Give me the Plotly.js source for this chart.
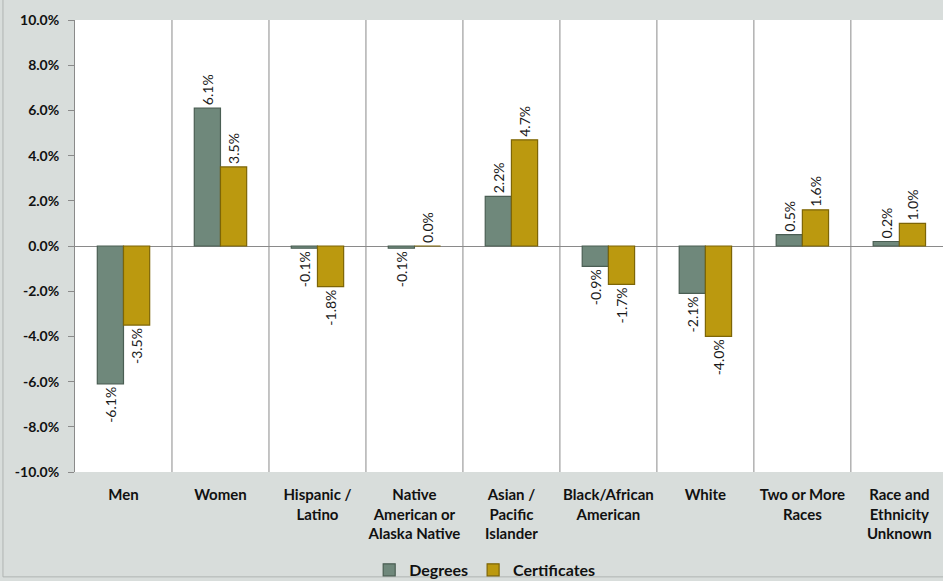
<!DOCTYPE html>
<html><head><meta charset="utf-8">
<script src="https://cdn.plot.ly/plotly-3.0.1.min.js"></script>
<style>html,body{margin:0;padding:0;background:#d8dddb;overflow:hidden}</style>
</head><body><div id="chart" style="width:943px;height:581px"></div>
<script>
const categories = ["Men","Women","Hispanic /<br>Latino","Native<br>American or<br>Alaska Native","Asian /<br>Pacific<br>Islander","Black/African<br>American","White","Two or More<br>Races","Race and<br>Ethnicity<br>Unknown"];
const degrees = [-6.1, 6.1, -0.1, -0.1, 2.2, -0.9, -2.1, 0.5, 0.2];
const certificates = [-3.5, 3.5, -1.8, 0.0, 4.7, -1.7, -4.0, 1.6, 1.0];
const yTicks = [-10,-8,-6,-4,-2,0,2,4,6,8,10];

const fmt = v => v.toFixed(1) + '%';
const idx = categories.map((c,i)=>i);

const traces = [
  {type:'bar', name:'Degrees', x:idx, y:degrees, text:degrees.map(fmt),
   textposition:'outside', textangle:-90, cliponaxis:false, constraintext:'none',
   textfont:{family:'Lato, sans-serif', size:14, color:'#1a1a1a'},
   marker:{color:'#6f887b', line:{color:'#4a5e53', width:1.2}}},
  {type:'bar', name:'Certificates', x:idx, y:certificates, text:certificates.map(fmt),
   textposition:'outside', textangle:-90, cliponaxis:false, constraintext:'none',
   textfont:{family:'Lato, sans-serif', size:14, color:'#1a1a1a'},
   marker:{color:'#bb990f', line:{color:'#7d6506', width:1.2}}}
];

const shapes = [];
for (let i=0;i<categories.length;i++){
  shapes.push({type:'line', xref:'x', yref:'y', x0:i+0.5, x1:i+0.5, y0:-10, y1:10,
    line:{color:'#8a8a8a', width:1}, layer:'below'});
}
shapes.push({type:'rect', xref:'paper', yref:'paper', x0:-0.083, x1:1.002, y0:-0.232, y1:1.05,
  line:{color:'#b0b4b2', width:1}, fillcolor:'rgba(0,0,0,0)'});

const layout = {
  width:943, height:581,
  paper_bgcolor:'#d8dddb', plot_bgcolor:'#ffffff',
  margin:{l:75, r:0, t:20, b:109},
  barmode:'group', bargap:0.46, bargroupgap:0,
  showlegend:true,
  legend:{orientation:'h', x:0.472, xanchor:'center', yref:'container', y:0.019, yanchor:'middle',
    font:{family:'Lato, sans-serif', size:16, color:'#111', weight:'bold'}, bgcolor:'rgba(0,0,0,0)',
    itemwidth:30},
  xaxis:{tickmode:'array', tickvals:idx, ticktext:categories, range:[-0.5, 8.45], automargin:false,
    showgrid:false, zeroline:false, showline:false, ticks:'', ticklabelstandoff:12,
    tickfont:{family:'Lato, sans-serif', size:15, color:'#111', weight:'bold'}},
  yaxis:{range:[-10,10], tickmode:'array', tickvals:yTicks, ticktext:yTicks.map(fmt), automargin:false,
    showgrid:false, zeroline:true, zerolinecolor:'#8a8a8a', zerolinewidth:1,
    showline:true, linecolor:'#8a8a8a', ticks:'outside', ticklen:6, tickcolor:'#8a8a8a',
    ticklabelstandoff:6,
    tickfont:{family:'Lato, sans-serif', size:14, color:'#111', weight:'bold'}},
  shapes:shapes
};
Plotly.newPlot('chart', traces, layout, {displayModeBar:false, staticPlot:true});
</script></body></html>
